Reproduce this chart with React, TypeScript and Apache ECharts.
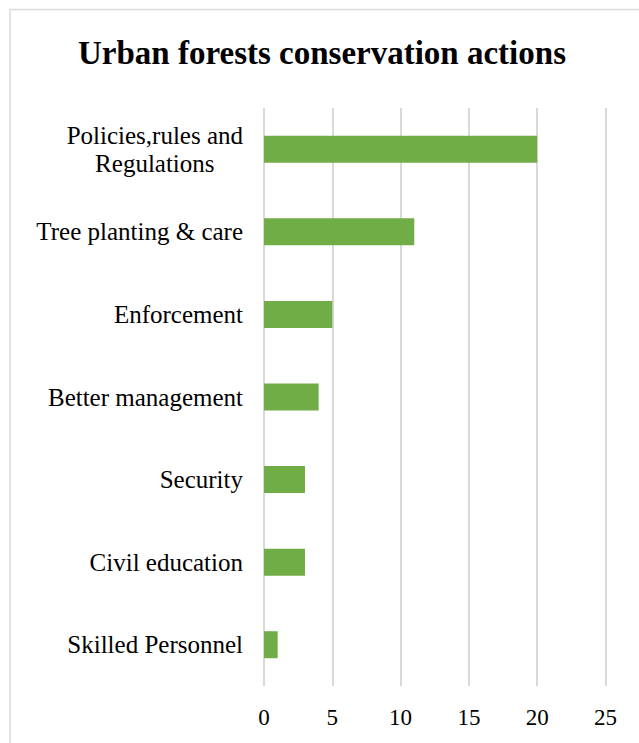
import React, { useEffect, useRef } from "react";
import * as echarts from "echarts";

const categories = [
  "Policies,rules and\nRegulations",
  "Tree planting & care",
  "Enforcement",
  "Better management",
  "Security",
  "Civil education",
  "Skilled Personnel",
];
const values = [20, 11, 5, 4, 3, 3, 1];
const xMin = 0;
const xMax = 25;
const xInterval = 5;
const title = "Urban forests conservation actions";

const FONT = '"Liberation Serif", "Times New Roman", serif';

export default function App() {
  const ref = useRef<HTMLDivElement>(null);
  useEffect(() => {
    document.body.style.margin = "0";
    const chart = echarts.init(ref.current!, undefined, { renderer: "svg" });
    chart.setOption({
      animation: false,
      backgroundColor: "#ffffff",
      graphic: [
        {
          type: "rect",
          shape: { x: 10, y: 9.5, width: 800, height: 900 },
          style: { fill: "none", stroke: "#d9d9d9", lineWidth: 1.5 },
          silent: true,
        },
        {
          type: "text",
          x: 322,
          y: 53,
          style: {
            text: title,
            fontFamily: FONT,
            fontWeight: "bold",
            fontSize: 33,
            fill: "#000",
            align: "center",
            verticalAlign: "middle",
          },
        },
      ],
      grid: { left: 264, right: 33.5, top: 108, bottom: 57, containLabel: false },
      xAxis: {
        type: "value",
        min: xMin,
        max: xMax,
        interval: xInterval,
        axisLine: { show: false },
        axisTick: { show: false },
        splitLine: { show: true, lineStyle: { color: "#d9d9d9", width: 2 } },
        axisLabel: { fontFamily: FONT, fontSize: 23, color: "#000", margin: 20 },
      },
      yAxis: {
        type: "category",
        inverse: true,
        data: categories,
        axisLine: { show: false },
        axisTick: { show: false },
        axisLabel: {
          fontFamily: FONT,
          fontSize: 25,
          color: "#000",
          margin: 21,
          align: "right",
          formatter: (v: string) =>
            v.split("\n").map((s) => `{c|${s}}`).join("\n"),
          rich: {
            c: { align: "center", fontFamily: FONT, fontSize: 25, color: "#000", lineHeight: 28 },
          },
        },
      },
      series: [
        {
          type: "bar",
          data: values,
          barWidth: 27,
          itemStyle: { color: "#70AD47" },
        },
      ],
    });
    return () => chart.dispose();
  }, []);
  return <div ref={ref} style={{ width: 639, height: 743 }} />;
}
